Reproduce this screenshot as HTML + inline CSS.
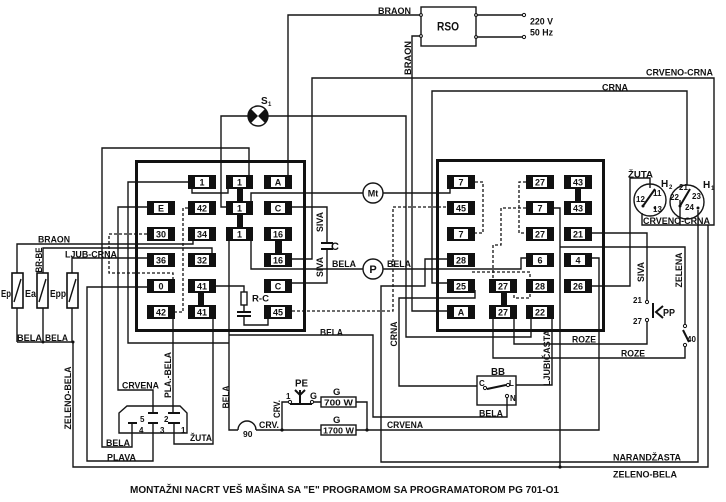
<!DOCTYPE html>
<html><head><meta charset="utf-8"><style>
html,body{margin:0;padding:0;background:#fff;}
svg{display:block;}
text{font-family:"Liberation Sans",Arial,sans-serif;font-weight:bold;fill:#111;}
</style></head><body>
<svg width="726" height="502" viewBox="0 0 726 502" xmlns="http://www.w3.org/2000/svg">
<rect width="726" height="502" fill="#fff"/>

<!-- thin wires -->
<g stroke="#151515" stroke-width="1.4" fill="none">
<path d="M288,175 V15 H421"/>
<rect x="421" y="7" width="55" height="39"/>
<path d="M421,36 H412 V311 H447"/>
<path d="M476,15 H524 M476,37 H524"/>
<path d="M292,259 H312 V78 H714 V225 H642 V213"/>
<path d="M447,283 H432 V91 H687 V185"/>
<path d="M226,207 H221 V116 H248 M268,116 H406 V337 H531 V318"/>
<path d="M249,175 V148 H102 V447 H132 V423"/>
<path d="M188,182 H128 V343 H229"/>
<path d="M147,207 H118 V390 H153 V413"/>
<path d="M17,273 V244 H193 V240"/>
<path d="M43,273 V248 H212 V253"/>
<path d="M72,273 V258 H147"/>
<path d="M17,308 V342 M43,308 V342 M72,308 V342 M17,342 H73 V467 H708 V225"/>
<path d="M147,287 H87 V461 H153 V423"/>
<path d="M173,319 V413"/>
<path d="M213,319 V444 H174 V423"/>
<path d="M216,286 H244 V292 M244,305 V312 M244,316 V325 H268 V319"/>
<path d="M229,241 V430 H238 M256,430 H321"/>
<path d="M238,430 A9,9 0 0 1 256,430"/>
<path d="M229,335 H373 V417 H507 V397"/>
<path d="M251,241 V269 H363 M251,201 V193 H363"/>
<path d="M383,269 H521 V258 H526"/>
<path d="M383,193 H450 V189"/>
<path d="M292,207 H327 V243 M327,249 V283 H292"/>
<path d="M447,259 H425 V286 H381 V462 H698 V210"/>
<path d="M475,290 V298 H399 V386 H477"/>
<path d="M592,233 H647 V302 M647,320 V344 H514 V319"/>
<path d="M592,286 H630 V178 H650 V188"/>
<path d="M592,258 H599 V430 H356"/>
<path d="M282,430 V402 H290 M312,402 H321 M356,402 H367 V430"/>
<path d="M554,208 H560 V467 M560,247 H685 V325 M685,345 V358 H493 V319"/>
<path d="M552,319 V385 H516"/>
<path d="M680,200 V225"/>
<path d="M192,189 V193 H228 V189"/>
<rect x="477" y="376" width="39" height="29"/>
<rect x="321" y="397" width="35" height="10"/>
<rect x="321" y="425" width="35" height="10"/>
<circle cx="373" cy="193" r="10"/>
<circle cx="373" cy="269" r="10"/>
<circle cx="258" cy="116" r="10"/>
<circle cx="650" cy="200" r="16"/>
<circle cx="687" cy="202" r="17"/>
<path d="M119,413 L127,406 H180 L187,413 V433 H119 Z"/>
<rect x="241" y="292" width="6" height="13"/>
</g>

<!-- dashed wires -->
<g stroke="#151515" stroke-width="1.3" fill="none" stroke-dasharray="3,2">
<path d="M147,234 H109 V273 H173 V279"/>
<path d="M188,208 H183 V312 H175"/>
<path d="M292,311 H393 V207 H447"/>
<path d="M475,182 H483 V233 H475"/>
<path d="M526,182 H519 V233 H526"/>
<path d="M526,208 H501 V245 H493 V279"/>
<path d="M472,272 H530 V298 H514 V293"/>
</g>

<!-- thick boxes -->
<g stroke="#111" stroke-width="3" fill="none">
<rect x="136.5" y="161.5" width="168" height="169"/>
<rect x="437.5" y="160.5" width="166" height="170"/>
</g>

<!-- heaters -->
<g stroke="#111" stroke-width="1.6" fill="#fff">
<rect x="12" y="273" width="11" height="35"/>
<rect x="37" y="273" width="11" height="35"/>
<rect x="67" y="273" width="11" height="35"/>
</g>
<g stroke="#111" stroke-width="1.4">
<path d="M14,302 L21,279 M39,302 L46,279 M69,302 L76,279"/>
</g>

<!-- capacitors & pins -->
<g stroke="#111" stroke-width="2" fill="none">
<path d="M237,312 H251 M237,316 H251"/>
<path d="M321,243 H333 M321,249 H333"/>
<path d="M148,413 H158 M168,413 H180 M128,423 H137 M148,423 H158 M168,423 H180"/>
<path d="M290,404 H312"/>
<path d="M487,389 L506,385"/>
<path d="M653,303 V318 M663,306 L656,312 L663,318"/>
<path d="M683,330 L689,342"/>
<path d="M643,206 L655,189"/>
<path d="M680,206 L690,189"/>
<path d="M300,390 V403 M295,390 L300,395 L305,390"/>
</g>

<!-- small terminals -->
<g fill="#fff" stroke="#111" stroke-width="1">
<circle cx="524" cy="15" r="1.6"/><circle cx="524" cy="37" r="1.6"/>
<circle cx="421" cy="15" r="1.4"/><circle cx="421" cy="36" r="1.4"/>
<circle cx="476" cy="15" r="1.4"/><circle cx="476" cy="37" r="1.4"/>
<circle cx="647" cy="302" r="1.6"/><circle cx="647" cy="320" r="1.6"/>
<circle cx="685" cy="326" r="1.6"/><circle cx="685" cy="345" r="1.6"/>
<circle cx="485" cy="388" r="1.6"/><circle cx="508" cy="385" r="1.6"/><circle cx="507" cy="396" r="1.6"/>
<circle cx="290" cy="402" r="1.6"/><circle cx="312" cy="402" r="1.6"/>
</g>
<g fill="#111">
<circle cx="282" cy="430" r="1.6"/><circle cx="367" cy="430" r="1.6"/>
<circle cx="560" cy="467" r="1.6"/><circle cx="73" cy="342" r="1.5"/><circle cx="43" cy="342" r="1.5"/>
<circle cx="643" cy="206" r="1.5"/><circle cx="680" cy="206" r="1.5"/><circle cx="698" cy="208" r="1.5"/><circle cx="655" cy="208" r="1.3"/>
<path d="M258,116 L250.93,108.93 A10 10 0 0 0 250.93,123.07 Z"/>
<path d="M258,116 L265.07,108.93 A10 10 0 0 1 265.07,123.07 Z"/>
<!-- connector bars -->
<rect x="237" y="188" width="6" height="40"/>
<rect x="198" y="292" width="6" height="14"/>
<rect x="275" y="240" width="7" height="14"/>
<rect x="575" y="188" width="6" height="14"/>
<rect x="501" y="292" width="6" height="14"/>
</g>

<!-- terminal blocks -->
<g>
<g fill="#111">
<rect x="188" y="175" width="28" height="14"/><rect x="226" y="175" width="27" height="14"/><rect x="264" y="175" width="28" height="14"/>
<rect x="147" y="201" width="28" height="14"/><rect x="188" y="201" width="28" height="14"/><rect x="226" y="201" width="27" height="14"/><rect x="264" y="201" width="28" height="14"/>
<rect x="147" y="227" width="28" height="14"/><rect x="188" y="227" width="28" height="14"/><rect x="226" y="227" width="27" height="14"/><rect x="264" y="227" width="28" height="14"/>
<rect x="147" y="253" width="28" height="14"/><rect x="188" y="253" width="28" height="14"/><rect x="264" y="253" width="28" height="14"/>
<rect x="147" y="279" width="28" height="14"/><rect x="188" y="279" width="28" height="14"/><rect x="264" y="279" width="28" height="14"/>
<rect x="147" y="305" width="28" height="14"/><rect x="188" y="305" width="28" height="14"/><rect x="264" y="305" width="28" height="14"/>
<rect x="447" y="175" width="28" height="14"/><rect x="526" y="175" width="28" height="14"/><rect x="564" y="175" width="28" height="14"/>
<rect x="447" y="201" width="28" height="14"/><rect x="526" y="201" width="28" height="14"/><rect x="564" y="201" width="28" height="14"/>
<rect x="447" y="227" width="28" height="14"/><rect x="526" y="227" width="28" height="14"/><rect x="564" y="227" width="28" height="14"/>
<rect x="447" y="253" width="28" height="14"/><rect x="526" y="253" width="28" height="14"/><rect x="564" y="253" width="28" height="14"/>
<rect x="447" y="279" width="28" height="14"/><rect x="489" y="279" width="28" height="14"/><rect x="526" y="279" width="28" height="14"/><rect x="564" y="279" width="28" height="14"/>
<rect x="447" y="305" width="28" height="14"/><rect x="489" y="305" width="28" height="14"/><rect x="526" y="305" width="28" height="14"/>
</g>
<g fill="#fff">
<rect x="195" y="177" width="14" height="10"/><rect x="233" y="177" width="13" height="10"/><rect x="271" y="177" width="14" height="10"/>
<rect x="154" y="203" width="14" height="10"/><rect x="195" y="203" width="14" height="10"/><rect x="233" y="203" width="13" height="10"/><rect x="271" y="203" width="14" height="10"/>
<rect x="154" y="229" width="14" height="10"/><rect x="195" y="229" width="14" height="10"/><rect x="233" y="229" width="13" height="10"/><rect x="271" y="229" width="14" height="10"/>
<rect x="154" y="255" width="14" height="10"/><rect x="195" y="255" width="14" height="10"/><rect x="271" y="255" width="14" height="10"/>
<rect x="154" y="281" width="14" height="10"/><rect x="195" y="281" width="14" height="10"/><rect x="271" y="281" width="14" height="10"/>
<rect x="154" y="307" width="14" height="10"/><rect x="195" y="307" width="14" height="10"/><rect x="271" y="307" width="14" height="10"/>
<rect x="454" y="177" width="14" height="10"/><rect x="533" y="177" width="14" height="10"/><rect x="571" y="177" width="14" height="10"/>
<rect x="454" y="203" width="14" height="10"/><rect x="533" y="203" width="14" height="10"/><rect x="571" y="203" width="14" height="10"/>
<rect x="454" y="229" width="14" height="10"/><rect x="533" y="229" width="14" height="10"/><rect x="571" y="229" width="14" height="10"/>
<rect x="454" y="255" width="14" height="10"/><rect x="533" y="255" width="14" height="10"/><rect x="571" y="255" width="14" height="10"/>
<rect x="454" y="281" width="14" height="10"/><rect x="496" y="281" width="14" height="10"/><rect x="533" y="281" width="14" height="10"/><rect x="571" y="281" width="14" height="10"/>
<rect x="454" y="307" width="14" height="10"/><rect x="496" y="307" width="14" height="10"/><rect x="533" y="307" width="14" height="10"/>
</g>
<g font-size="9" text-anchor="middle">
<text x="202" y="185.5">1</text><text x="239.5" y="185.5">1</text><text x="278" y="185.5">A</text>
<text x="161" y="211.5">E</text><text x="202" y="211.5">42</text><text x="239.5" y="211.5">1</text><text x="278" y="211.5">C</text>
<text x="161" y="237.5">30</text><text x="202" y="237.5">34</text><text x="239.5" y="237.5">1</text><text x="278" y="237.5">16</text>
<text x="161" y="263.5">36</text><text x="202" y="263.5">32</text><text x="278" y="263.5">16</text>
<text x="161" y="289.5">0</text><text x="202" y="289.5">41</text><text x="278" y="289.5">C</text>
<text x="161" y="315.5">42</text><text x="202" y="315.5">41</text><text x="278" y="315.5">45</text>
<text x="461" y="185.5">7</text><text x="540" y="185.5">27</text><text x="578" y="185.5">43</text>
<text x="461" y="211.5">45</text><text x="540" y="211.5">7</text><text x="578" y="211.5">43</text>
<text x="461" y="237.5">7</text><text x="540" y="237.5">27</text><text x="578" y="237.5">21</text>
<text x="461" y="263.5">28</text><text x="540" y="263.5">6</text><text x="578" y="263.5">4</text>
<text x="461" y="289.5">25</text><text x="503" y="289.5">27</text><text x="540" y="289.5">28</text><text x="578" y="289.5">26</text>
<text x="461" y="315.5">A</text><text x="503" y="315.5">27</text><text x="540" y="315.5">22</text>
</g>
</g>

<!-- labels -->
<g font-size="9">
<text x="378" y="14" textLength="33" lengthAdjust="spacingAndGlyphs">BRAON</text>
<text x="437" y="30.5" font-size="12" textLength="22" lengthAdjust="spacingAndGlyphs">RSO</text>
<text x="530" y="24.5" textLength="23" lengthAdjust="spacingAndGlyphs">220 V</text>
<text x="530" y="35.5" textLength="23" lengthAdjust="spacingAndGlyphs">50 Hz</text>
<text x="646" y="75.5" textLength="67" lengthAdjust="spacingAndGlyphs">CRVENO-CRNA</text>
<text x="602" y="90.5" textLength="26" lengthAdjust="spacingAndGlyphs">CRNA</text>
<text transform="translate(411,58) rotate(-90)" x="-17" y="0" textLength="34" lengthAdjust="spacingAndGlyphs">BRAON</text>
<text x="261" y="104" font-size="10">S</text><text x="268" y="106" font-size="6">1</text>
<text x="38" y="242.5" textLength="32" lengthAdjust="spacingAndGlyphs">BRAON</text>
<text transform="translate(42,260) rotate(-90)" x="-12.5" y="0" textLength="25" lengthAdjust="spacingAndGlyphs">BR-BE</text>
<text x="65" y="257.5" textLength="52" lengthAdjust="spacingAndGlyphs">LJUB-CRNA</text>
<text x="1" y="297" font-size="10" textLength="10" lengthAdjust="spacingAndGlyphs">Ep</text>
<text x="25" y="297" font-size="10" textLength="11" lengthAdjust="spacingAndGlyphs">Ea</text>
<text x="50" y="297" font-size="10" textLength="16" lengthAdjust="spacingAndGlyphs">Epp</text>
<text x="17" y="341" textLength="25" lengthAdjust="spacingAndGlyphs">BELA</text>
<text x="45" y="341" textLength="23" lengthAdjust="spacingAndGlyphs">BELA</text>
<text transform="translate(71,398) rotate(-90)" x="-31.5" y="0" textLength="63" lengthAdjust="spacingAndGlyphs">ZELENO-BELA</text>
<text x="122" y="388.5" textLength="37" lengthAdjust="spacingAndGlyphs">CRVENA</text>
<text transform="translate(171,375) rotate(-90)" x="-23" y="0" textLength="46" lengthAdjust="spacingAndGlyphs">PLA.-BELA</text>
<text x="106" y="446" textLength="24" lengthAdjust="spacingAndGlyphs">BELA</text>
<text x="107" y="460.5" textLength="29" lengthAdjust="spacingAndGlyphs">PLAVA</text>
<text x="190" y="441" textLength="22" lengthAdjust="spacingAndGlyphs">ŽUTA</text>
<text x="140" y="422" font-size="8">5</text><text x="164" y="422" font-size="8">2</text>
<text x="139" y="433" font-size="8">4</text><text x="160" y="433" font-size="8">3</text><text x="181" y="433" font-size="8">1</text>
<text transform="translate(229,397) rotate(-90)" x="-11.5" y="0" textLength="23" lengthAdjust="spacingAndGlyphs">BELA</text>
<text x="243" y="437" font-size="8.5">90</text>
<text x="259" y="428" textLength="20" lengthAdjust="spacingAndGlyphs">CRV.</text>
<text transform="translate(280,409) rotate(-90)" x="-9" y="0" textLength="18" lengthAdjust="spacingAndGlyphs">CRV.</text>
<text x="295" y="386.5" font-size="10" textLength="13" lengthAdjust="spacingAndGlyphs">PE</text>
<text x="286" y="399" font-size="8">1</text>
<text x="310" y="399" font-size="9">G</text>
<text x="333" y="395" font-size="9.5">G</text>
<text x="333" y="423" font-size="9.5">G</text>
<text x="324" y="405.5" font-size="8.5" textLength="29" lengthAdjust="spacingAndGlyphs">700 W</text>
<text x="323" y="433.5" font-size="8.5" textLength="31" lengthAdjust="spacingAndGlyphs">1700 W</text>
<text x="387" y="428" textLength="36" lengthAdjust="spacingAndGlyphs">CRVENA</text>
<text x="320" y="335.5" textLength="23" lengthAdjust="spacingAndGlyphs">BELA</text>
<text transform="translate(397,334) rotate(-90)" x="-12.5" y="0" textLength="25" lengthAdjust="spacingAndGlyphs">CRNA</text>
<text x="491" y="375" font-size="10" textLength="14" lengthAdjust="spacingAndGlyphs">BB</text>
<text x="479" y="386" font-size="8">C</text><text x="509" y="386" font-size="8">L</text><text x="510" y="401" font-size="8">N</text>
<text x="479" y="416.5" textLength="24" lengthAdjust="spacingAndGlyphs">BELA</text>
<text transform="translate(550,358) rotate(-90)" x="-28" y="0" textLength="56" lengthAdjust="spacingAndGlyphs">LJUBIČASTA</text>
<text x="572" y="342.5" textLength="24" lengthAdjust="spacingAndGlyphs">ROZE</text>
<text x="621" y="356.5" textLength="24" lengthAdjust="spacingAndGlyphs">ROZE</text>
<text x="613" y="460.5" textLength="68" lengthAdjust="spacingAndGlyphs">NARANDŽASTA</text>
<text x="613" y="477.5" textLength="64" lengthAdjust="spacingAndGlyphs">ZELENO-BELA</text>
<text x="687" y="342" font-size="8">40</text>
<text x="663" y="316" font-size="10" textLength="12" lengthAdjust="spacingAndGlyphs">PP</text>
<text x="633" y="303" font-size="8">21</text><text x="633" y="324" font-size="8">27</text>
<text transform="translate(644,272) rotate(-90)" x="-10" y="0" textLength="20" lengthAdjust="spacingAndGlyphs">SIVA</text>
<text transform="translate(682,270) rotate(-90)" x="-17.5" y="0" textLength="35" lengthAdjust="spacingAndGlyphs">ZELENA</text>
<text x="628" y="177.5" textLength="25" lengthAdjust="spacingAndGlyphs">ŽUTA</text>
<text x="661" y="187" font-size="10">H</text><text x="669" y="189" font-size="6">2</text>
<text x="703" y="188" font-size="10">H</text><text x="711" y="190" font-size="6">1</text>
<text x="636" y="202" font-size="8">12</text><text x="653" y="196" font-size="8">11</text><text x="653" y="212" font-size="8">13</text>
<text x="679" y="190" font-size="8">21</text><text x="670" y="200" font-size="8">22</text><text x="692" y="199" font-size="8">23</text><text x="685" y="210" font-size="8">24</text>
<text x="643" y="224" textLength="67" lengthAdjust="spacingAndGlyphs">CRVENO-CRNA</text>
<text x="252" y="301.5" font-size="9.5" textLength="17" lengthAdjust="spacingAndGlyphs">R-C</text>
<text x="331" y="250" font-size="11">C</text>
<text transform="translate(323,222) rotate(-90)" x="-10" y="0" textLength="20" lengthAdjust="spacingAndGlyphs">SIVA</text>
<text transform="translate(323,267) rotate(-90)" x="-10" y="0" textLength="20" lengthAdjust="spacingAndGlyphs">SIVA</text>
<text x="332" y="267" textLength="24" lengthAdjust="spacingAndGlyphs">BELA</text>
<text x="387" y="267" textLength="24" lengthAdjust="spacingAndGlyphs">BELA</text>
<text x="373" y="196.5" font-size="9" text-anchor="middle">Mt</text>
<text x="373" y="273" font-size="11" text-anchor="middle">P</text>
<text x="130" y="493" font-size="10" textLength="429" lengthAdjust="spacingAndGlyphs">MONTAŽNI NACRT VEŠ MAŠINA SA "E" PROGRAMOM SA PROGRAMATOROM PG 701-O1</text>
</g>
</svg>
</body></html>
